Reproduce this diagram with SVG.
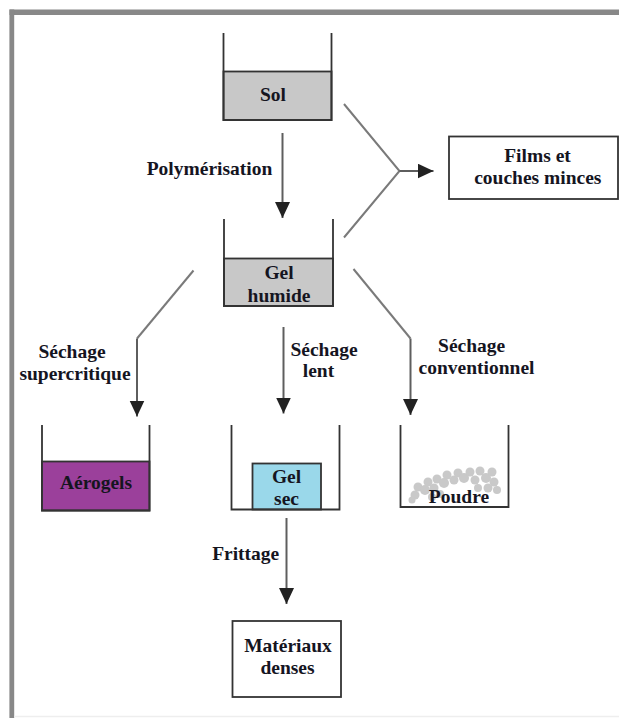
<svg xmlns="http://www.w3.org/2000/svg" width="619" height="718" viewBox="0 0 619 718" font-family="'Liberation Serif', 'Times New Roman', 'DejaVu Serif', serif">
<style>
text{font-family:'Liberation Serif','Times New Roman','DejaVu Serif',serif}
.t{font-weight:bold;font-size:19.5px;fill:#15151f;text-anchor:middle}
.bk{fill:none;stroke:#333;stroke-width:1.8}
.box{fill:#fff;stroke:#333;stroke-width:1.8}
.fill{stroke:#333;stroke-width:1.8}
.ar{fill:none;stroke:#5e5e5e;stroke-width:2}
.dg{fill:none;stroke:#7a7a7a;stroke-width:2}
.dot{fill:#c9c9c9}
</style>
<defs>
<marker id="ah" markerUnits="userSpaceOnUse" markerWidth="17" markerHeight="16" refX="16" refY="7.5" orient="auto">
<path d="M0,0 L16,7.5 L0,15 z" fill="#222"/>
</marker>
</defs>
<rect x="0" y="0" width="619" height="718" fill="#fff"/>
<g id="frame">
<line x1="9.5" y1="12.3" x2="619" y2="12.3" stroke="#888" stroke-width="5.5"/>
<line x1="11.8" y1="9.5" x2="11.8" y2="718" stroke="#888" stroke-width="4.8"/>
<line x1="14" y1="716.5" x2="619" y2="716.5" stroke="#eee" stroke-width="1.5"/>
</g>
<g id="connectors">
<path class="ar" d="M282.5 133 V218" marker-end="url(#ah)"/>
<path class="dg" d="M344 104 L399.5 171 L344 237.5"/>
<path class="ar" d="M399.5 171 H433.5" marker-end="url(#ah)"/>
<path class="dg" d="M193.5 270.5 L137 338.5"/>
<path class="ar" d="M137 338.5 V416.5" marker-end="url(#ah)"/>
<path class="ar" d="M283.5 327 V413.5" marker-end="url(#ah)"/>
<path class="dg" d="M353.5 269 L410.5 338.5"/>
<path class="ar" d="M410.5 338.5 V415" marker-end="url(#ah)"/>
<path class="ar" d="M286.5 518 V604" marker-end="url(#ah)"/>
<text class="t" x="209.5" y="175">Polymérisation</text>
<text class="t" x="72" y="358">Séchage</text>
<text class="t" x="75" y="380">supercritique</text>
<text class="t" x="324" y="356">Séchage</text>
<text class="t" x="318.5" y="377">lent</text>
<text class="t" x="471.7" y="352">Séchage</text>
<text class="t" x="476.5" y="374">conventionnel</text>
<text class="t" x="245.7" y="560">Frittage</text>
</g>
<g id="sol">
<rect class="fill" x="223.5" y="71.5" width="108" height="48.5" fill="#c8c8c8"/>
<path class="bk" d="M223.5 33 V120 H331.5 V33"/>
<text class="t" x="273" y="101">Sol</text>
</g>
<g id="gel-humide">
<rect class="fill" x="224" y="258.5" width="109" height="47.5" fill="#c8c8c8"/>
<path class="bk" d="M224 219 V306 H333 V219"/>
<text class="t" x="279" y="279">Gel</text>
<text class="t" x="279" y="302">humide</text>
</g>
<g id="films">
<rect class="box" x="449" y="136.5" width="169" height="62.5"/>
<text class="t" x="537.5" y="162">Films et</text>
<text class="t" x="537.8" y="183.5">couches minces</text>
</g>
<g id="aerogels">
<rect class="fill" x="42" y="461.5" width="107.5" height="49" fill="#9b409b"/>
<path class="bk" d="M42 425 V510.5 H149.5 V425"/>
<text class="t" x="96" y="489">Aérogels</text>
</g>
<g id="gel-sec">
<rect class="fill" x="252.5" y="463.5" width="68.5" height="46" fill="#9ad8ea"/>
<path class="bk" d="M231.5 425 V509.5 H339.5 V425"/>
<text class="t" x="286.5" y="483">Gel</text>
<text class="t" x="286.5" y="505">sec</text>
</g>
<g id="poudre">
<circle class="dot" cx="415" cy="495" r="4.5"/>
<circle class="dot" cx="418" cy="487" r="4.5"/>
<circle class="dot" cx="425" cy="490" r="5"/>
<circle class="dot" cx="428" cy="482" r="4.5"/>
<circle class="dot" cx="434" cy="488" r="4.5"/>
<circle class="dot" cx="437" cy="479" r="4.5"/>
<circle class="dot" cx="444" cy="483" r="5"/>
<circle class="dot" cx="447" cy="475" r="4.5"/>
<circle class="dot" cx="454" cy="480" r="4.5"/>
<circle class="dot" cx="458" cy="473" r="4.5"/>
<circle class="dot" cx="464" cy="478" r="5"/>
<circle class="dot" cx="470" cy="472" r="4.5"/>
<circle class="dot" cx="475" cy="480" r="4.5"/>
<circle class="dot" cx="480" cy="471" r="4.5"/>
<circle class="dot" cx="486" cy="478" r="5"/>
<circle class="dot" cx="492" cy="472" r="4.5"/>
<circle class="dot" cx="494" cy="482" r="4.5"/>
<circle class="dot" cx="497" cy="490" r="4"/>
<circle class="dot" cx="488" cy="488" r="4.5"/>
<circle class="dot" cx="478" cy="488" r="4"/>
<circle class="dot" cx="440" cy="494" r="4"/>
<circle class="dot" cx="432" cy="497" r="4"/>
<circle class="dot" cx="412" cy="500" r="3.5"/>
<path class="bk" d="M400.5 425 V507 H508.5 V425"/>
<text class="t" x="459" y="503">Poudre</text>
</g>
<g id="materiaux">
<rect class="box" x="232.5" y="621" width="108.5" height="76"/>
<text class="t" x="288" y="652">Matériaux</text>
<text class="t" x="287.5" y="674">denses</text>
</g>
</svg>
